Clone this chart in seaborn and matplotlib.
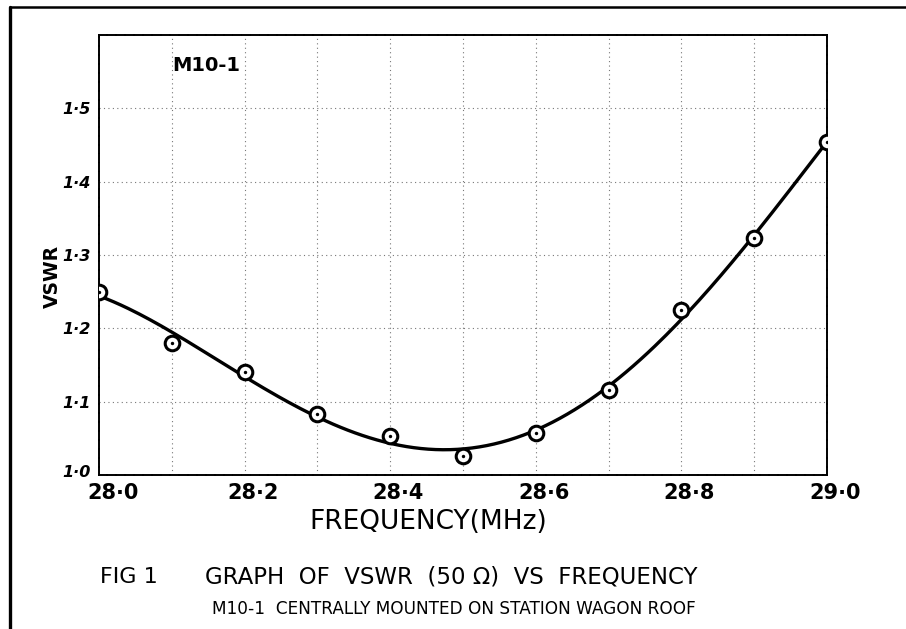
import matplotlib.pyplot as plt
from matplotlib.lines import Line2D
from matplotlib.transforms import ScaledTranslation
import seaborn as sns
import numpy as np
import pandas as pd

freq = [28.0, 28.1, 28.2, 28.3, 28.4, 28.5, 28.6, 28.7, 28.8, 28.9, 29.0]
vswr = [1.25, 1.18, 1.14, 1.083, 1.053, 1.026, 1.057, 1.116, 1.225, 1.323, 1.454]

x_ticks = [28.0, 28.2, 28.4, 28.6, 28.8, 29.0]
x_tick_labels = ["28·0", "28·2", "28·4", "28·6", "28·8", "29·0"]
y_ticks = [1.0, 1.1, 1.2, 1.3, 1.4, 1.5]
y_tick_labels = ["1·0", "1·1", "1·2", "1·3", "1·4", "1·5"]
grid_x = [28.1, 28.2, 28.3, 28.4, 28.5, 28.6, 28.7, 28.8, 28.9]
grid_y = [1.1, 1.2, 1.3, 1.4, 1.5]

sns.set_style("white")
plt.rcParams["font.family"] = ["DejaVu Sans"]
plt.rcParams["text.color"] = "black"
plt.rcParams["xtick.color"] = "black"
plt.rcParams["ytick.color"] = "black"

pts = pd.DataFrame({"freq": freq, "vswr": vswr})

# smooth best-fit curve through the measurements
coef = np.polyfit(freq, vswr, 4)
fx = np.linspace(freq[0], freq[-1], 200)
curve = pd.DataFrame({"freq": fx, "vswr": np.polyval(coef, fx)})

fig = plt.figure(figsize=(9.06, 6.29), dpi=100)
ax = fig.add_axes([99 / 906, 1 - 475 / 629, 728 / 906, 440 / 629])

for gx in grid_x:
    ax.axvline(gx, color="#777777", lw=0.8, ls=(0, (1, 3)), zorder=0)
for gy in grid_y:
    ax.axhline(gy, color="#777777", lw=0.8, ls=(0, (1, 3)), zorder=0)

sns.lineplot(data=curve, x="freq", y="vswr", ax=ax, color="black", lw=2.4, zorder=3)
sns.scatterplot(data=pts, x="freq", y="vswr", ax=ax, marker="o", s=110,
                facecolor="white", edgecolor="black", linewidth=2.2, zorder=4)
sns.scatterplot(data=pts, x="freq", y="vswr", ax=ax, marker="o", s=6,
                color="black", linewidth=0, zorder=5)

ax.set_xlim(28.0, 29.0)
ax.set_ylim(1.0, 1.6)
ax.set_xticks(x_ticks)
ax.set_xticklabels(x_tick_labels, fontsize=15, fontweight="bold")
ax.set_yticks(y_ticks)
ax.set_yticklabels(y_tick_labels, fontsize=11.5, fontweight="bold", style="italic")
ax.tick_params(length=0, labelcolor="black")
ax.tick_params(axis="x", pad=6)
ax.tick_params(axis="y", pad=6)
ax.set_xlabel("")
ax.set_ylabel("")

# hand-lettered labels sit a little right of their ticks
for i, lab in enumerate(ax.get_xticklabels()):
    dx = 14 if i == 0 else 8
    lab.set_transform(lab.get_transform() + ScaledTranslation(dx / 100, 0, fig.dpi_scale_trans))
ylabs = ax.get_yticklabels()
ylabs[0].set_transform(ylabs[0].get_transform() + ScaledTranslation(0, 4 / 100, fig.dpi_scale_trans))

for sp in ax.spines.values():
    sp.set_color("black")
    sp.set_linewidth(1.4)
    sp.set_linestyle((0, (4, 0.6)))

ax.text(28.1, 1.558, "M10-1", fontsize=14, fontweight="bold", va="center", ha="left")

fig.text(52 / 906, 1 - 276 / 629, "VSWR", rotation=90, fontsize=13.5,
         fontweight="bold", ha="center", va="center")
fig.text(428 / 906, 1 - 522 / 629, "FREQUENCY(MHz)", fontsize=19,
         ha="center", va="center")
fig.text(100 / 906, 1 - 577 / 629, "FIG 1", fontsize=16, ha="left", va="center")
fig.text(205 / 906, 1 - 577 / 629, "GRAPH  OF  VSWR  (50 Ω)  VS  FREQUENCY",
         fontsize=16.5, ha="left", va="center")
fig.text(212 / 906, 1 - 609 / 629, "M10-1  CENTRALLY MOUNTED ON STATION WAGON ROOF",
         fontsize=12.2, ha="left", va="center")

# outer drawing frame (top and left edges visible)
fig.add_artist(Line2D([10 / 906, 10 / 906], [0, 1 - 7 / 629], color="black", lw=2.4))
fig.add_artist(Line2D([10 / 906, 1], [1 - 7 / 629, 1 - 7 / 629], color="black", lw=1.8))

fig.savefig("out.png", dpi=100)
